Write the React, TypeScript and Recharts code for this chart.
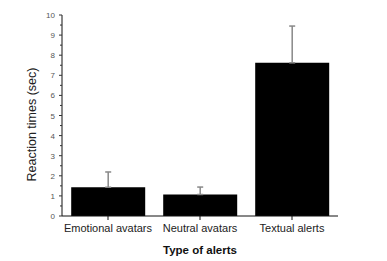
import React from 'react';
import { BarChart, Bar, XAxis, YAxis, ErrorBar } from 'recharts';

const categories = ['Emotional avatars', 'Neutral avatars', 'Textual alerts'];
const means = [1.43, 1.07, 7.62];
const errorsUp = [0.76, 0.37, 1.83];
const yTicks = [0, 0.5, 1, 1.5, 2, 2.5, 3, 3.5, 4, 4.5, 5, 5.5, 6, 6.5, 7, 7.5, 8, 8.5, 9, 9.5, 10];

const data = categories.map((c, i) => ({ name: c, value: means[i], err: [0, errorsUp[i]] }));

const FONT = '"Liberation Sans", Arial, sans-serif';

const YTick = (props: any) => {
  const { x, y, payload } = props;
  const v = payload.value;
  const axisX = x + 7;
  const major = Number.isInteger(v);
  return (
    <g>
      <line x1={axisX} x2={axisX - (major ? 3 : 2)} y1={y} y2={y} stroke="#333" strokeWidth={1} />
      {major && (
        <text x={x} y={y} dy={3} textAnchor="end" fontSize={8} fill="#555" fontFamily={FONT}>
          {v}
        </text>
      )}
    </g>
  );
};

const YTitle = (props: any) => {
  const { viewBox } = props;
  const cx = viewBox.x + 32;
  const cy = viewBox.y + viewBox.height / 2 + 9;
  return (
    <text x={cx} y={cy} transform={`rotate(-90, ${cx}, ${cy})`} textAnchor="middle" dominantBaseline="central" fontSize={12.5} fill="#222" fontFamily={FONT}>
      Reaction times (sec)
    </text>
  );
};

const XTitle = (props: any) => {
  const { viewBox } = props;
  const cx = viewBox.x + viewBox.width / 2;
  return (
    <text x={cx} y={254} textAnchor="middle" fontSize={11.5} fontWeight="bold" fill="#111" fontFamily={FONT}>
      Type of alerts
    </text>
  );
};

export default function App() {
  return (
    <div style={{ position: 'absolute', left: 0, top: 0, width: 387, height: 261, background: '#fff' }}>
      <BarChart width={387} height={261} data={data} margin={{ top: 15, right: 49, left: 0, bottom: 0 }} barCategoryGap="10%">
        <XAxis
          dataKey="name"
          height={45}
          stroke="#111"
          tickSize={4}
          tickMargin={4}
          tick={{ fontSize: 11, fill: '#222', fontFamily: FONT }}
          interval={0}
          label={<XTitle />}
        />
        <YAxis
          width={62}
          domain={[0, 10]}
          ticks={yTicks}
          interval={0}
          stroke="#111"
          tickLine={false}
          tickSize={3}
          tickMargin={4}
          tick={<YTick />}
          label={<YTitle />}
        />
        <Bar dataKey="value" fill="#000" isAnimationActive={false}>
          <ErrorBar dataKey="err" direction="y" width={3} stroke="#888" strokeWidth={1.5} />
        </Bar>
      </BarChart>
    </div>
  );
}
